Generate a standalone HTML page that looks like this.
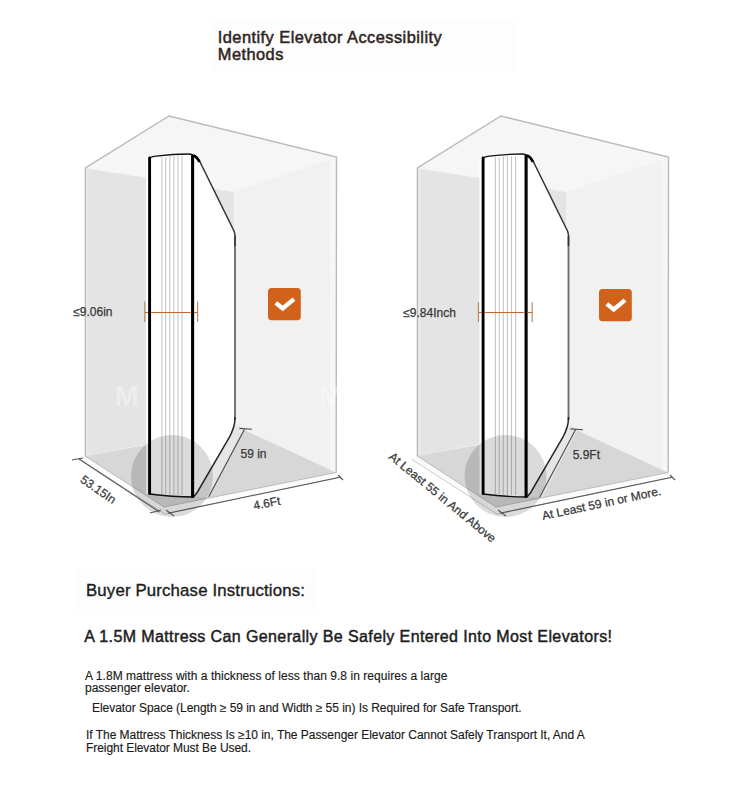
<!DOCTYPE html>
<html><head><meta charset="utf-8">
<style>
html,body{margin:0;padding:0;background:#fff;}
body{width:750px;height:793px;position:relative;overflow:hidden;font-family:"Liberation Sans",sans-serif;}
.t{position:absolute;white-space:nowrap;line-height:1;}
svg{position:absolute;left:0;top:0;}
.sm{position:absolute;white-space:nowrap;line-height:1;font-size:12px;color:#1a1a1a;-webkit-text-stroke:0.15px #1a1a1a;}
.lbl{font-family:"Liberation Sans",sans-serif;font-size:12px;fill:#383838;stroke:#383838;stroke-width:0.25px;}
</style></head><body>
<svg width="750" height="793" viewBox="0 0 750 793">
<rect x="211" y="21" width="306" height="49" fill="#fdfdfd"/>
<rect x="78" y="568" width="240" height="46" fill="#fdfdfd"/>
<defs>
<g id="box">
  <!-- top face -->
  <polygon points="169,116 337,157 234,193 85,168" fill="#f6f6f6"/>
  <!-- left wall -->
  <polygon points="85,168 234,192 234,428 85,456" fill="#e4e4e4"/>
  <!-- right wall -->
  <polygon points="234,192 337,157 336,472 234,428" fill="#f1f1f1"/>
  <polygon points="330,159 336,157 336,472 330,469" fill="#f6f6f6"/>
  <polygon points="86,168 88.5,168.4 88.5,454.5 86,456" fill="#e9e9e9"/>
  <!-- floor -->
  <polygon points="85,456 240,428 336,472.5 164,507" fill="#d7d7d7"/>
  <!-- slab -->
  <polygon points="85,456 164,507 336,472.5 339,477 166,513 80,459" fill="#fbfbfb"/>
  <polyline points="85,456 164,507 336,472.5" fill="none" stroke="#b4b4b4" stroke-width="0.9"/>
  <polyline points="80,459.5 165,514 339,477.5" fill="none" stroke="#c4c4c4" stroke-width="0.9"/>
  <!-- edges -->
  <polyline points="85.4,456 85.4,168 169,116 336.5,157 336.2,472.5" fill="none" stroke="#bababa" stroke-width="1.4"/>
</g>
<g id="dimc">
  <line x1="244.5" y1="429.2" x2="208.7" y2="496.7" stroke="#4a4a4a" stroke-width="1.1"/>
  <line x1="239.4" y1="428.4" x2="251.9" y2="429.2" stroke="#4a4a4a" stroke-width="1.1"/>
</g>
<g id="matt">
  <polygon points="235,424 244.5,429.2 208.7,496.7 195,497" fill="#e6e6e6"/>
  <path d="M149.5,157 C165,155 180,154 192.5,155 C197,156 200,161 202,166 L234,231 C235,233 235.5,234 235.5,236 L235.5,418 Q235.5,427 229,438 L200,487.6 Q197.5,493 194,496.5 C180,497 160,496 149.5,494 Z" fill="#fff"/>
  <rect x="146" y="157" width="2.5" height="337" fill="#fff"/>
  <g stroke="#c6c6c6" stroke-width="1.1">
    <line x1="161.9" y1="157" x2="161.9" y2="494"/>
    <line x1="165.7" y1="157" x2="165.7" y2="494"/>
    <line x1="169.8" y1="156" x2="169.8" y2="495"/>
    <line x1="173.9" y1="156" x2="173.9" y2="495"/>
    <line x1="178" y1="156" x2="178" y2="495"/>
    <line x1="182.1" y1="156" x2="182.1" y2="495"/>
  </g>
  <path d="M235,236 L235,420" fill="none" stroke="#6e6e6e" stroke-width="1.9"/>
  <path d="M192.5,155 C197,156 200,161 202,166 L234,231 C234.8,233 235,234 235,236 L235,246" fill="none" stroke="#333" stroke-width="1.5"/>
  <path d="M193.5,155.5 C196,156.5 198,159 199.5,162" fill="none" stroke="#000" stroke-width="2.6"/>
  <path d="M235,417 L235,418 Q235,427 229,438 L200,487.6 Q197.5,493 193.5,497" fill="none" stroke="#262626" stroke-width="1.5"/>
  <path d="M149.8,158.5 C150.5,156.5 153,156.6 156,156.2 C167,154.8 180,154 189,154 C191,154 192.5,154.8 193.5,156" fill="none" stroke="#111" stroke-width="1.3"/>
  <path d="M149.5,494 C165,496 180,497 193.5,497" fill="none" stroke="#111" stroke-width="1.3"/>
  <line x1="149.6" y1="158" x2="149.6" y2="493.5" stroke="#000" stroke-width="2.9" stroke-linecap="round"/>
  <line x1="192.6" y1="156" x2="192.6" y2="496.5" stroke="#000" stroke-width="3.1" stroke-linecap="round"/>
  <circle cx="172" cy="476" r="41" fill="#000" fill-opacity="0.14"/>
</g>
<g id="chk">
  <rect x="268" y="288" width="32.8" height="32.3" rx="3.5" fill="#d0621c"/>
  <path d="M275.8,302.9 L282.7,308.5 L294,299.1" fill="none" stroke="#fff" stroke-width="4.4"/>
</g>
</defs>

<!-- LEFT -->
<use href="#box"/>
<use href="#matt"/>
<use href="#chk"/>
<g font-family="Liberation Sans" font-size="29px" font-weight="bold" fill="#fff" fill-opacity="0.36">
  <text x="114.5" y="406">M</text>
  <text x="319" y="406">M</text>
</g>
<!-- 59in dim -->
<use href="#dimc"/>
<!-- thickness dim -->
<g stroke="#c4682a" stroke-width="1.1">
  <line x1="144.8" y1="312.5" x2="148" y2="312.5"/>
  <line x1="151" y1="312.5" x2="190.8" y2="312.5"/>
  <line x1="194" y1="312.5" x2="197.6" y2="312.5"/>
</g>
<g stroke="#b98055" stroke-width="1.1">
  <line x1="144.8" y1="301.6" x2="144.8" y2="322"/>
  <line x1="197.6" y1="301.6" x2="197.6" y2="322"/>
</g>
<!-- 53.15 dim -->
<g stroke="#555" stroke-width="1.1">
  <line x1="79" y1="459" x2="159.5" y2="512"/>
  <line x1="72" y1="460" x2="83" y2="458"/>
  <line x1="150" y1="513" x2="161" y2="510"/>
  <line x1="168" y1="513.2" x2="340" y2="477.2"/>
  <line x1="166" y1="510" x2="174" y2="516"/>
  <line x1="338" y1="475" x2="343" y2="480"/>
</g>
<text class="lbl" x="73.2" y="315.8">≤9.06in</text>
<text class="lbl" x="240.5" y="457.6">59 in</text>
<text class="lbl" transform="translate(79.5,481.5) rotate(34.5)">53.15In</text>
<text class="lbl" transform="translate(254.2,509.8) rotate(-11)">4.6Ft</text>

<!-- RIGHT -->
<use href="#box" transform="translate(332,0)"/>
<use href="#matt" transform="translate(333.5,0)"/>
<use href="#chk" transform="translate(331,1)"/>
<use href="#dimc" transform="translate(331,0.5)"/>
<g stroke="#c4682a" stroke-width="1.1">
  <line x1="478.4" y1="312.5" x2="482" y2="312.5"/>
  <line x1="485" y1="312.5" x2="524" y2="312.5"/>
  <line x1="527.3" y1="312.5" x2="532.2" y2="312.5"/>
</g>
<g stroke="#b98055" stroke-width="1.1">
  <line x1="478.4" y1="302.2" x2="478.4" y2="322"/>
  <line x1="532.2" y1="302.2" x2="532.2" y2="322"/>
</g>
<g stroke="#555" stroke-width="1.1">
  <line x1="500" y1="513.2" x2="672" y2="477.2"/>
  <line x1="498" y1="510" x2="506" y2="516"/>
  <line x1="670" y1="475" x2="675" y2="480"/>
</g>
<text class="lbl" x="403.2" y="317.2">≤9.84Inch</text>
<text class="lbl" x="572.7" y="458.7">5.9Ft</text>
<text class="lbl" transform="translate(388,458) rotate(39.3)">At Least 55 in And Above</text>
<text class="lbl" transform="translate(543,520) rotate(-12)">At Least 59 in or More.</text>
</svg>

<div class="t" style="left:217.8px;top:28.7px;font-size:16.4px;color:#2e2420;letter-spacing:0.45px;-webkit-text-stroke:0.5px #2e2420;">Identify Elevator Accessibility</div>
<div class="t" style="left:217.8px;top:45.9px;font-size:16.4px;color:#2e2420;letter-spacing:0.45px;-webkit-text-stroke:0.5px #2e2420;">Methods</div>

<div class="t" style="left:86px;top:583.3px;font-size:16.8px;color:#1c1c1c;letter-spacing:0.16px;-webkit-text-stroke:0.35px #1c1c1c;">Buyer Purchase Instructions:</div>
<div class="t" style="left:84.3px;top:628.6px;font-size:16px;color:#1c1c1c;letter-spacing:0.39px;-webkit-text-stroke:0.45px #1c1c1c;">A 1.5M Mattress Can Generally Be Safely Entered Into Most Elevators!</div>

<div class="sm" style="left:85px;top:669.6px;letter-spacing:0.054px;">A 1.8M mattress with a thickness of less than 9.8 in requires a large</div>
<div class="sm" style="left:85px;top:682.4px;">passenger elevator.</div>
<div class="sm" style="left:92px;top:701.9px;letter-spacing:-0.04px;">Elevator Space (Length ≥ 59 in and Width ≥ 55 in) Is Required for Safe Transport.</div>
<div class="sm" style="left:86px;top:728.6px;letter-spacing:-0.03px;">If The Mattress Thickness Is ≥10 in, The Passenger Elevator Cannot Safely Transport It, And A</div>
<div class="sm" style="left:86px;top:741.7px;letter-spacing:-0.06px;">Freight Elevator Must Be Used.</div>
</body></html>
